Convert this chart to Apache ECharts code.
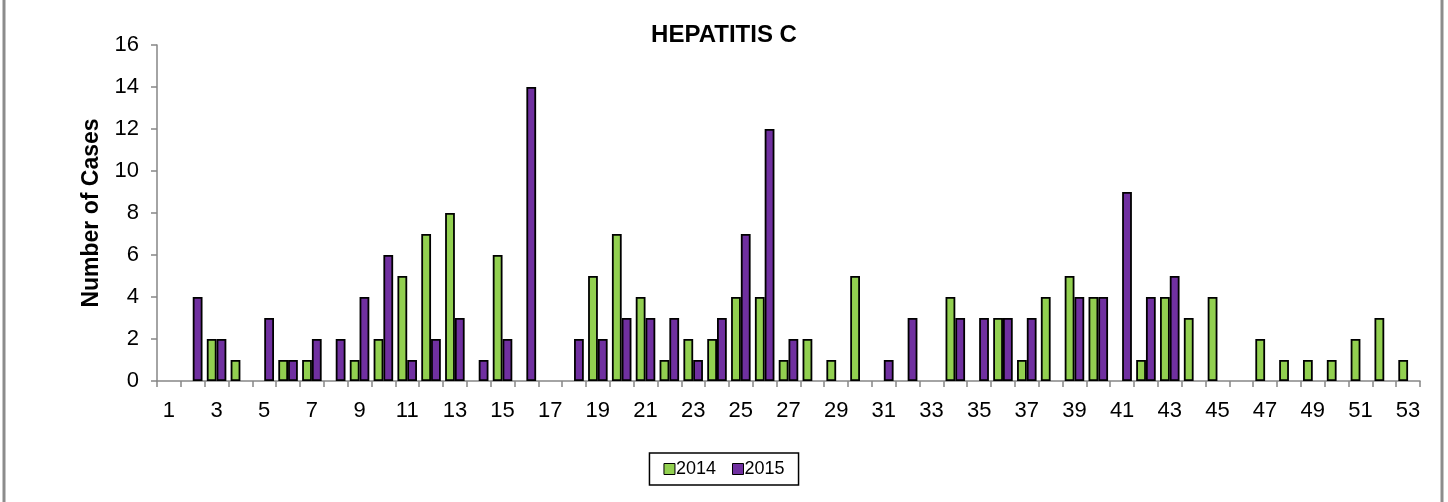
<!DOCTYPE html>
<html>
<head>
<meta charset="utf-8">
<script src="https://cdn.jsdelivr.net/npm/echarts@6/dist/echarts.min.js"></script>
<style>
html,body{margin:0;padding:0;background:#fff;}
#chart{width:1448px;height:502px;}
</style>
</head>
<body>
<div id="chart"></div>
<script>
const weeks = Array.from({length: 53}, (_, i) => String(i + 1));
const cases2014 = [0,0,2,1,0,1,1,0,1,2,5,7,8,0,6,0,0,0,5,7,4,1,2,2,4,4,1,2,1,5,0,0,0,4,0,3,1,4,5,4,0,1,4,3,4,0,2,1,1,1,2,3,1];
const cases2015 = [0,4,2,0,3,1,2,2,4,6,1,2,3,1,2,14,0,2,2,3,3,3,1,3,7,12,2,0,0,0,1,3,0,3,3,3,3,0,4,4,9,4,5,0,0,0,0,0,0,0,0,0,0];
const yTicks = [0,2,4,6,8,10,12,14,16];

const hideZero = arr => arr.map(v => (v === 0 ? '-' : v));

const chart = echarts.init(document.getElementById('chart'), null, {renderer: 'canvas'});
const font = 'Liberation Sans, Arial, sans-serif';
chart.setOption({
  animation: false,
  backgroundColor: '#ffffff',
  title: {
    text: 'HEPATITIS C',
    left: 'center',
    top: 18,
    textStyle: {fontFamily: font, fontSize: 24, fontWeight: 'bold', color: '#000'}
  },
  legend: {
    bottom: 17,
    left: 'center',
    data: ['2014', '2015'],
    itemWidth: 11,
    itemHeight: 11,
    itemGap: 16,
    icon: 'rect',
    borderColor: '#000',
    borderWidth: 1.5,
    padding: [7, 14, 7, 14],
    textStyle: {fontFamily: font, fontSize: 18, color: '#000', padding: [0, 0, 0, -4]},
    itemStyle: {borderColor: '#000', borderWidth: 1}
  },
  grid: {left: 157, right: 28, top: 45, bottom: 121, containLabel: false},
  xAxis: {
    type: 'category',
    data: weeks,
    axisLine: {lineStyle: {color: '#868686', width: 1.5}},
    axisTick: {show: true, alignWithLabel: false, interval: 0, length: 6, lineStyle: {color: '#868686', width: 1.5}},
    axisLabel: {interval: 1, fontFamily: font, fontSize: 22, color: '#000', margin: 19}
  },
  yAxis: {
    type: 'value',
    min: 0,
    max: 16,
    interval: 2,
    name: 'Number of Cases',
    nameLocation: 'middle',
    nameGap: 54,
    nameTextStyle: {fontFamily: font, fontSize: 23, fontWeight: 'bold', color: '#000'},
    axisLine: {show: true, lineStyle: {color: '#868686', width: 1.5}},
    axisTick: {show: true, length: 6, lineStyle: {color: '#868686', width: 1.5}},
    splitLine: {show: false},
    axisLabel: {fontFamily: font, fontSize: 22, color: '#000', margin: 18,
      formatter: v => yTicks.includes(v) ? String(v) : ''}
  },
  series: [
    {
      name: '2014', type: 'bar', data: hideZero(cases2014),
      barGap: '0%', barCategoryGap: '18%',
      itemStyle: {color: '#92D050', borderColor: '#000', borderWidth: 1.8}
    },
    {
      name: '2015', type: 'bar', data: hideZero(cases2015),
      barGap: '0%', barCategoryGap: '18%',
      itemStyle: {color: '#7030A0', borderColor: '#000', borderWidth: 1.8}
    }
  ],
  graphic: [
    {type: 'line', shape: {x1: 4, y1: 0, x2: 4, y2: 502}, style: {stroke: '#8c8c8c', lineWidth: 3}},
    {type: 'line', shape: {x1: 1442, y1: 0, x2: 1442, y2: 502}, style: {stroke: '#8c8c8c', lineWidth: 3}}
  ]
});
</script>
</body>
</html>
